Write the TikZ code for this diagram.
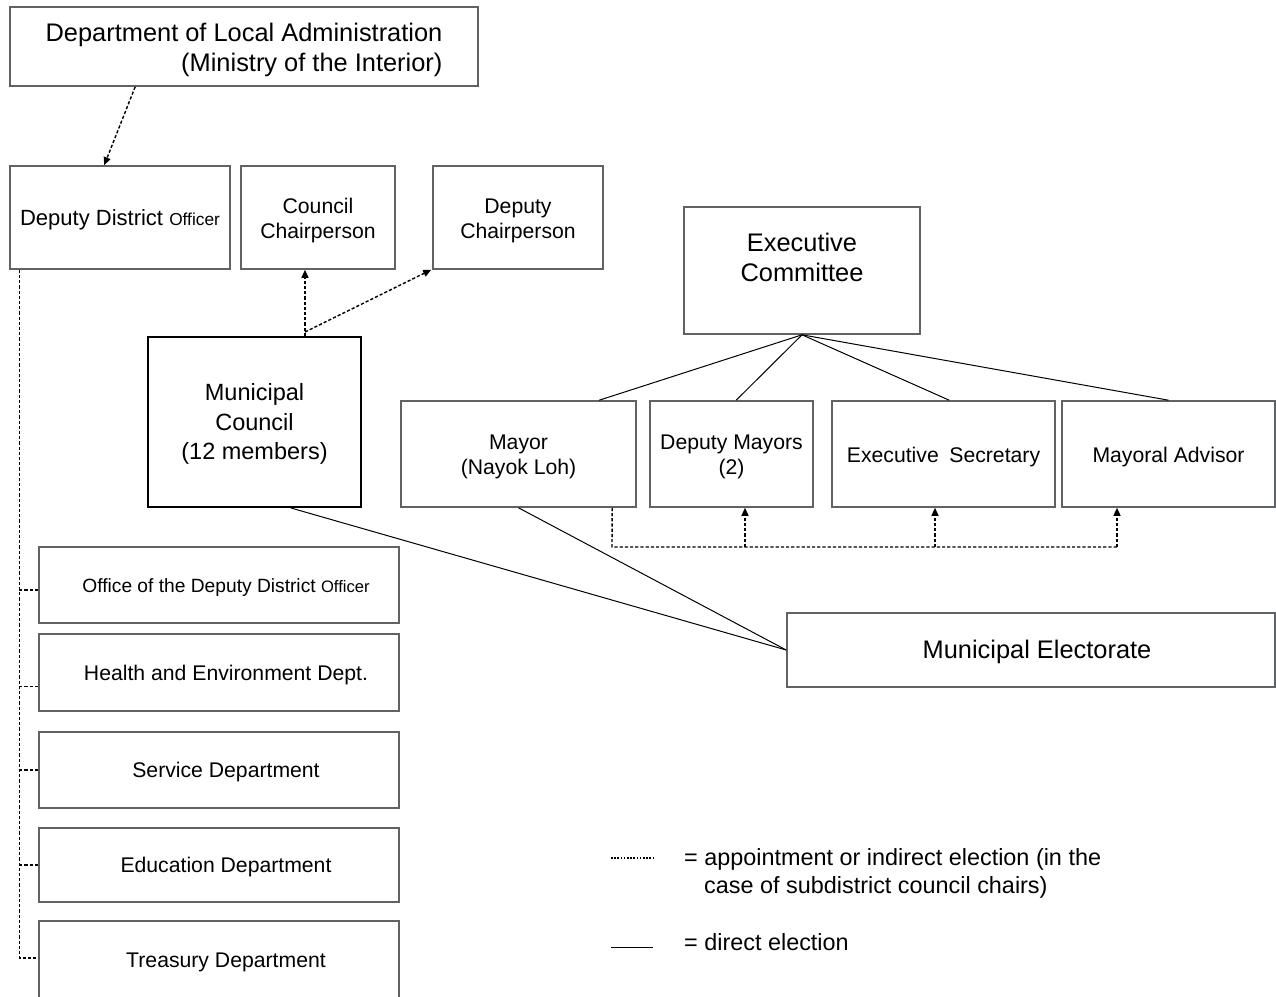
\documentclass[tikz,border=0pt]{standalone}
\usepackage{fontspec}
\setmainfont{Liberation Sans}
\usetikzlibrary{arrows.meta,calc}
\definecolor{boxgray}{RGB}{95,99,104}
\newcommand\fsz[2]{\fontsize{#1pt}{#2pt}\selectfont}
\begin{document}
\begin{tikzpicture}[x=1pt,y=-1pt,
  box/.style={draw=boxgray, line width=1.6pt, fill=white, inner sep=0pt, rectangle},
  tin/.style={inner sep=0pt, align=center},
  bigtxt/.style={font=\fsz{25.4}{30}},
  medtxt/.style={font=\fsz{21.2}{25}},
  dotline/.style={line width=1.4pt, dash pattern=on 3.2pt off 2pt},
  dotarrow/.style={dotline, -{Triangle[length=8pt,width=7pt]}},
  solidline/.style={line width=1pt},
  legtxt/.style={anchor=base west, inner sep=0pt, font=\fsz{23.4}{28}},
  dept/.style={box, minimum width=360pt}
]
\useasboundingbox (0,0) rectangle (1276,996);

% boxes
\node[box, minimum width=468pt, minimum height=79pt,
  label={[tin, bigtxt, align=right, name=dlat, yshift=-3.5pt]center:{Department of Local Administration\\(Ministry of the Interior)}}] (dla) at (244,46.5) {};
\node[box, minimum width=220pt, minimum height=103pt,
  label={[tin, name=ddot, yshift=-2pt]center:{\fsz{22}{26}Deputy District \fsz{17.3}{26}Officer}}] (ddo) at (120,217.5) {};
\node[box, minimum width=154pt, minimum height=103pt,
  label={[tin, medtxt, name=cct, yshift=-3pt]center:{Council\\Chairperson}}] (cc) at (318,217.5) {};
\node[box, minimum width=170pt, minimum height=103pt,
  label={[tin, medtxt, name=dct, yshift=-3pt]center:{Deputy\\Chairperson}}] (dc) at (518,217.5) {};
\node[box, minimum width=236pt, minimum height=127pt,
  label={[tin, bigtxt, name=ect, yshift=13pt]center:{Executive\\Committee}}] (ec) at (802,270.5) {};
\node[box, draw=black, line width=2pt, minimum width=213pt, minimum height=170pt,
  label={[tin, font=\fsz{23.5}{29.5}, name=mct, yshift=-2pt]center:{Municipal\\Council\\(12 members)}}] (mc) at (254.5,422) {};
\node[box, minimum width=235pt, minimum height=106pt,
  label={[tin, medtxt, name=mayort, yshift=-3pt]center:{Mayor\\(Nayok Loh)}}] (mayor) at (518.5,454) {};
\node[box, minimum width=163pt, minimum height=106pt,
  label={[tin, medtxt, name=dmt, yshift=-3pt]center:{Deputy Mayors\\(2)}}] (dm) at (731.5,454) {};
\node[box, minimum width=223pt, minimum height=106pt,
  label={[tin, medtxt, name=est, yshift=-3pt]center:{Executive\hspace{0.5em}Secretary}}] (es) at (943.5,454) {};
\node[box, minimum width=213pt, minimum height=106pt,
  label={[tin, medtxt, name=mat, yshift=-3pt]center:{Mayoral Advisor}}] (ma) at (1168.5,454) {};
\node[box, minimum width=488pt, minimum height=74pt,
  label={[tin, bigtxt, name=met, xshift=6pt, yshift=-2pt]center:{Municipal Electorate}}] (me) at (1031,650) {};

\node[dept, minimum height=76pt,
  label={[tin, name=offt, xshift=7pt, yshift=-2.5pt]center:{\fsz{19.2}{23}Office of the Deputy District \fsz{16.6}{23}Officer}}] (off) at (219,585) {};
\node[dept, minimum height=77pt,
  label={[tin, medtxt, name=heat, xshift=7pt, yshift=-2.5pt]center:{Health and Environment Dept.}}] (hea) at (219,672.5) {};
\node[dept, minimum height=76pt,
  label={[tin, medtxt, name=sert, xshift=7pt, yshift=-2.5pt]center:{Service Department}}] (ser) at (219,770) {};
\node[dept, minimum height=74pt,
  label={[tin, medtxt, name=edut, xshift=7pt, yshift=-2.5pt]center:{Education Department}}] (edu) at (219,865) {};
\node[dept, minimum height=79pt,
  label={[tin, medtxt, name=tret, xshift=7pt, yshift=-2pt]center:{Treasury Department}}] (tre) at (219,960.5) {};

% DLA -> DDO
\draw[dotarrow] ($(dla.south west)+(126,0)$) -- ($(ddo.north west)+(95,0)$);

% DDO spine to departments
\coordinate (spine) at ($(ddo.south west)+(10,0)$);
\coordinate (t1) at ($(tre.west)+(0,-2.5)$);
\draw[dotline] (spine) |- (t1);
\coordinate (o1) at ($(off.west)+(0,5)$);
\coordinate (h1) at ($(hea.west)+(0,14)$);
\coordinate (s1) at (ser.west);
\coordinate (e1) at (edu.west);
\draw[dotline] (o1 -| spine) -- (o1);
\draw[dotline] (h1 -| spine) -- (h1);
\draw[dotline] (s1 -| spine) -- (s1);
\draw[dotline] (e1 -| spine) -- (e1);

% Municipal council -> chairs
\coordinate (mctop) at ($(mc.north west)+(158,0)$);
\coordinate (mcfork) at ($(mctop)+(0,-4)$);
\draw[dotarrow] (mctop) -- (mctop |- cc.south);
\draw[dotarrow] (mcfork) -- ($(dc.south west)+(-1,0)$);

% Executive committee -> members
\draw[solidline] (ec.south) -- ($(mayor.north west)+(199,0)$);
\draw[solidline] (ec.south) -- ($(dm.north west)+(87,0)$);
\draw[solidline] (ec.south) -- ($(es.north west)+(118,0)$);
\draw[solidline] (ec.south) -- (ma.north);

% Electorate
\draw[solidline] ($(mc.south west)+(144,0)$) -- (me.west);
\draw[solidline] (mayor.south) -- (me.west);

% Mayor appointments
\coordinate (mb) at ($(mayor.south west)+(212,0)$);
\coordinate (bus) at (612,547);
\coordinate (busend) at (1118,547);
\draw[dotline] (mb) -- (bus) -- (busend);
\coordinate (b1) at (745,547);
\coordinate (b2) at (935,547);
\coordinate (b3) at (1117,547);
\draw[dotarrow] (b1) -- (b1 |- dm.south);
\draw[dotarrow] (b2) -- (b2 |- es.south);
\draw[dotarrow] (b3) -- (b3 |- ma.south);

% Legend
\coordinate (l1a) at (611,858);
\coordinate (l1b) at (653,858);
\draw[line width=1.2pt, dash pattern=on 1.6pt off 1.6pt] (l1a) -- (l1b);
\node[legtxt] (leg1) at (684,865) {= appointment or indirect election (in the};
\node[legtxt] (leg2) at (704,893) {case of subdistrict council chairs)};
\coordinate (l2a) at (611,947);
\coordinate (l2b) at (653,947);
\draw[solidline] (l2a) -- (l2b);
\node[legtxt] (leg3) at (684,950) {= direct election};
\end{tikzpicture}
\end{document}
